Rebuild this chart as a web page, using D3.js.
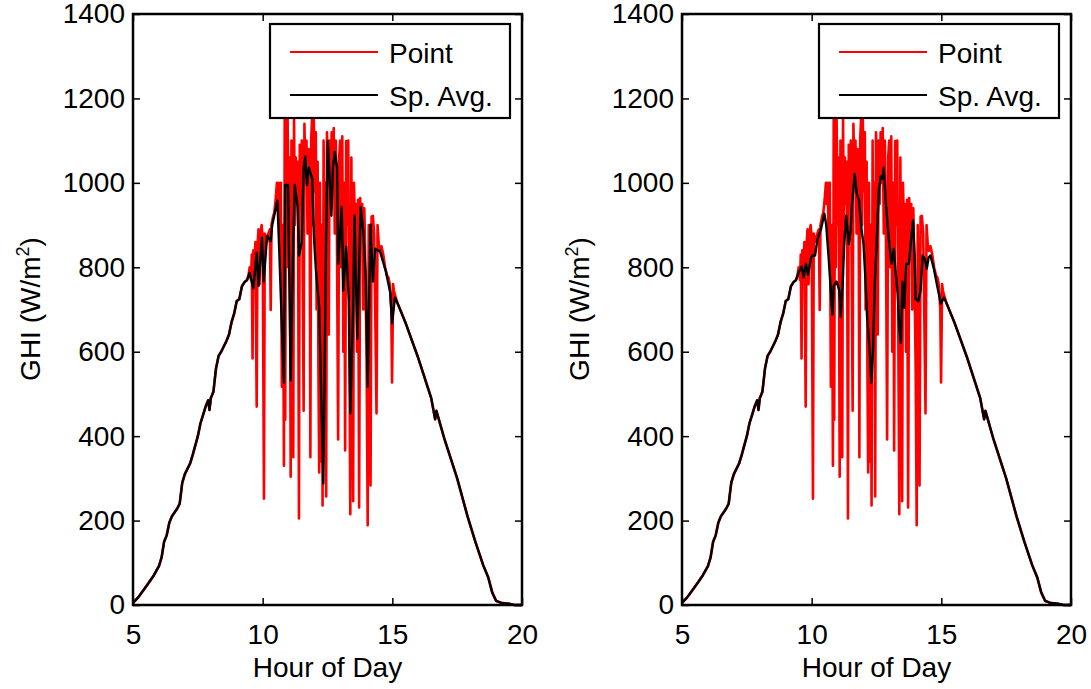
<!DOCTYPE html>
<html>
<head>
<meta charset="utf-8">
<script src="https://cdn.jsdelivr.net/npm/d3@7"></script>
<style>
  body { margin: 0; background: #fff; }
  svg { font-family: "Liberation Sans", Arial, sans-serif; }
</style>
</head>
<body>
<svg id="chart" width="1091" height="689"></svg>
<script>
// shared clear-sky rise and fall (both series follow it)
var riseHour = [5.0, 5.2, 5.4, 5.6, 5.8, 6.0, 6.1, 6.2, 6.3, 6.4, 6.5, 6.7, 6.8, 6.9, 7.0, 7.2, 7.3, 7.5, 7.6, 7.7, 7.8, 7.9, 7.95, 8.0, 8.1, 8.2, 8.3, 8.4, 8.6, 8.7, 8.8, 8.9, 9.0, 9.1, 9.2, 9.3, 9.4];
var riseGHI = [5, 18, 35, 52, 70, 92, 112, 150, 165, 195, 210, 228, 240, 290, 310, 335, 355, 400, 430, 450, 470, 485, 462, 490, 505, 560, 590, 600, 625, 640, 670, 690, 720, 725, 755, 765, 770];
var fallHour = [15.2, 15.5, 16.0, 16.5, 16.65, 16.7, 17.0, 17.5, 17.9, 18.2, 18.5, 18.7, 18.85, 19.0, 19.2, 19.5, 19.7, 20.0];
var fallGHI = [715, 670, 585, 490, 440, 460, 395, 300, 210, 150, 95, 65, 30, 10, 5, 3, 0, 0];

// point sensor, cloudy middle of the day
var pointHour = [9.45, 9.5, 9.55, 9.58, 9.61, 9.64, 9.68, 9.72, 9.77, 9.8, 9.84, 9.88, 9.92, 9.96, 10.0, 10.05, 10.08, 10.12, 10.17, 10.22, 10.28, 10.31, 10.34, 10.4, 10.45, 10.5, 10.55, 10.58, 10.62, 10.66, 10.7, 10.74, 10.78, 10.82, 10.85, 10.87, 10.9, 10.93, 10.96, 11.0, 11.04, 11.08, 11.11, 11.15, 11.18, 11.21, 11.24, 11.28, 11.32, 11.36, 11.4, 11.43, 11.47, 11.51, 11.54, 11.58, 11.61, 11.65, 11.69, 11.73, 11.77, 11.81, 11.84, 11.87, 11.91, 11.94, 11.97, 12.01, 12.05, 12.08, 12.12, 12.15, 12.18, 12.21, 12.25, 12.28, 12.31, 12.35, 12.38, 12.42, 12.45, 12.48, 12.52, 12.55, 12.58, 12.62, 12.66, 12.7, 12.74, 12.78, 12.82, 12.86, 12.91, 12.95, 12.99, 13.03, 13.07, 13.11, 13.15, 13.18, 13.22, 13.26, 13.3, 13.34, 13.38, 13.42, 13.45, 13.49, 13.52, 13.56, 13.6, 13.64, 13.68, 13.72, 13.76, 13.8, 13.84, 13.88, 13.92, 13.96, 14.01, 14.05, 14.09, 14.12, 14.16, 14.2, 14.25, 14.3, 14.34, 14.39, 14.43, 14.48, 14.52, 14.58, 14.65, 14.72, 14.8, 14.85, 14.9, 14.96, 14.99, 15.03, 15.06, 15.1];
var pointGHI = [780, 800, 770, 830, 584, 840, 790, 860, 470, 850, 890, 760, 880, 900, 870, 252, 880, 870, 860, 880, 890, 699, 900, 920, 930, 960, 1000, 950, 1000, 840, 1000, 517, 900, 330, 1160, 439, 1160, 800, 1160, 900, 1060, 304, 1100, 870, 350, 1160, 900, 1060, 950, 1050, 205, 1090, 960, 1100, 820, 460, 1140, 1000, 1100, 880, 1080, 1000, 350, 1100, 1160, 900, 1160, 980, 1120, 700, 1050, 560, 314, 1000, 340, 900, 236, 1100, 800, 1000, 257, 1120, 1000, 641, 1100, 950, 1120, 1000, 1130, 880, 1100, 920, 392, 1060, 1100, 800, 1110, 600, 1000, 366, 1099, 900, 1100, 650, 215, 1060, 700, 246, 1000, 900, 950, 600, 960, 231, 964, 880, 950, 700, 940, 800, 560, 189, 900, 700, 283, 920, 922, 880, 700, 454, 900, 850, 839, 850, 830, 800, 780, 776, 760, 700, 527, 760, 745, 735];

// spatial average, left panel
var avgHourA = [9.5, 9.64, 9.77, 9.84, 9.97, 10.04, 10.17, 10.31, 10.37, 10.57, 10.64, 10.74, 10.82, 10.87, 10.98, 11.08, 11.18, 11.24, 11.35, 11.4, 11.51, 11.58, 11.64, 11.71, 11.78, 11.91, 11.98, 12.05, 12.18, 12.25, 12.34, 12.45, 12.51, 12.65, 12.71, 12.78, 12.87, 12.91, 13.05, 13.11, 13.22, 13.32, 13.38, 13.49, 13.54, 13.65, 13.78, 13.89, 13.98, 14.05, 14.16, 14.25, 14.34, 14.45, 14.52, 14.75, 14.92, 14.99, 15.1];
var avgGHIA = [787, 750, 834, 756, 870, 766, 875, 862, 901, 958, 839, 662, 527, 995, 995, 532, 865, 995, 943, 828, 860, 1036, 1062, 995, 1036, 1010, 870, 797, 704, 517, 288, 891, 1099, 922, 1036, 1073, 1036, 808, 943, 745, 849, 725, 454, 704, 922, 631, 943, 880, 766, 517, 901, 766, 844, 839, 839, 790, 740, 667, 728];

// spatial average, right panel
var avgHourB = [9.49, 9.62, 9.69, 9.78, 9.86, 9.96, 10.02, 10.13, 10.22, 10.36, 10.49, 10.56, 10.66, 10.76, 10.8, 10.85, 10.96, 11.07, 11.12, 11.2, 11.25, 11.33, 11.43, 11.5, 11.56, 11.66, 11.74, 11.83, 11.92, 12.0, 12.06, 12.14, 12.23, 12.3, 12.37, 12.43, 12.5, 12.59, 12.67, 12.73, 12.78, 12.86, 12.97, 13.08, 13.17, 13.24, 13.32, 13.37, 13.44, 13.5, 13.57, 13.64, 13.75, 13.84, 13.91, 13.97, 14.01, 14.11, 14.2, 14.28, 14.37, 14.44, 14.51, 14.58, 14.71, 14.84, 14.98, 15.1];
var avgGHIB = [787, 802, 776, 808, 782, 818, 828, 828, 865, 891, 927, 901, 818, 725, 688, 756, 766, 745, 683, 766, 849, 922, 855, 886, 953, 1021, 974, 958, 891, 855, 787, 683, 610, 527, 610, 756, 849, 984, 1016, 1010, 1036, 953, 870, 808, 844, 787, 735, 662, 621, 766, 704, 808, 808, 870, 911, 828, 725, 719, 745, 828, 818, 797, 823, 828, 797, 756, 714, 728];

var xTicks = [5, 10, 15, 20];
var yTicks = [0, 200, 400, 600, 800, 1000, 1200, 1400];
var seriesNames = ['Point', 'Sp. Avg.'];
var seriesColors = ['#ff0000', '#000000'];

function pairs(hs, vs) {
  return hs.map(function (h, i) { return [h, vs[i]]; });
}

var pointData = pairs(riseHour, riseGHI).concat(pairs(pointHour, pointGHI), pairs(fallHour, fallGHI));
var avgA = pairs(riseHour, riseGHI).concat(pairs(avgHourA, avgGHIA), pairs(fallHour, fallGHI));
var avgB = pairs(riseHour, riseGHI).concat(pairs(avgHourB, avgGHIB), pairs(fallHour, fallGHI));

var svg = d3.select('#chart');
var plotTop = 14, plotBottom = 605, pw = 389;

function panel(left, avgData) {
  var x = d3.scaleLinear().domain([5, 20]).range([left, left + pw]);
  var y = d3.scaleLinear().domain([0, 1400]).range([plotBottom, plotTop]);
  var g = svg.append('g');

  var line = d3.line().x(function (d) { return x(d[0]); }).y(function (d) { return y(d[1]); });

  g.append('path').datum(pointData)
    .attr('d', line)
    .attr('fill', 'none')
    .attr('stroke', seriesColors[0])
    .attr('stroke-width', 2.6)
    .attr('stroke-linejoin', 'round');

  g.append('path').datum(avgData)
    .attr('d', line)
    .attr('fill', 'none')
    .attr('stroke', seriesColors[1])
    .attr('stroke-width', 2.4)
    .attr('stroke-linejoin', 'round');

  // axes, matlab style box with inward ticks
  var ax = [
    d3.axisBottom(x).tickValues(xTicks).tickSize(-7).tickPadding(19).tickFormat(d3.format('d')),
    d3.axisTop(x).tickValues(xTicks).tickSize(-7).tickFormat(''),
    d3.axisLeft(y).tickValues(yTicks).tickSize(-7).tickPadding(8).tickFormat(d3.format('d')),
    d3.axisRight(y).tickValues(yTicks).tickSize(-7).tickFormat('')
  ];
  var pos = ['translate(0,' + plotBottom + ')', 'translate(0,' + plotTop + ')',
             'translate(' + left + ',0)', 'translate(' + (left + pw) + ',0)'];
  ax.forEach(function (a, i) {
    var ag = g.append('g').attr('transform', pos[i]).call(a);
    ag.select('.domain').remove();
    ag.selectAll('line').attr('stroke', '#000').attr('stroke-width', 1.5);
    ag.selectAll('text').attr('font-size', 28).attr('fill', '#000')
      .attr('font-family', '"Liberation Sans", Arial, sans-serif');
  });

  g.append('rect')
    .attr('x', left).attr('y', plotTop)
    .attr('width', pw).attr('height', plotBottom - plotTop)
    .attr('fill', 'none').attr('stroke', '#000').attr('stroke-width', 2.5);

  // axis titles
  g.append('text')
    .attr('x', left + pw / 2).attr('y', 677)
    .attr('text-anchor', 'middle').attr('font-size', 28)
    .text('Hour of Day');

  var yl = g.append('text')
    .attr('transform', 'translate(' + (left - 93) + ',309) rotate(-90)')
    .attr('text-anchor', 'middle').attr('font-size', 28);
  yl.append('tspan').text('GHI (W/m');
  yl.append('tspan').attr('font-size', 18).attr('dy', -11).text('2');
  yl.append('tspan').attr('dy', 11).text(')');

  // legend
  var lx = left + 137;
  var lg = g.append('g');
  lg.append('rect').attr('x', lx).attr('y', 24).attr('width', 240).attr('height', 94)
    .attr('fill', '#fff').attr('stroke', '#000').attr('stroke-width', 2.2);
  seriesNames.forEach(function (name, i) {
    var ly = 52 + i * 43;
    lg.append('line').attr('x1', lx + 20).attr('x2', lx + 108)
      .attr('y1', ly).attr('y2', ly)
      .attr('stroke', seriesColors[i]).attr('stroke-width', 2);
    lg.append('text').attr('x', lx + 119).attr('y', ly + 11)
      .attr('font-size', 28).text(name);
  });
}

panel(133, avgA);
panel(682, avgB);
</script>
</body>
</html>
